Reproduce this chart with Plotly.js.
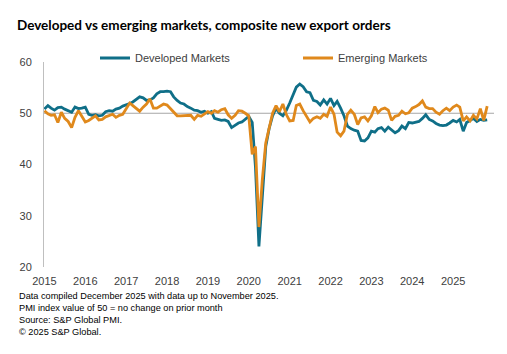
<!DOCTYPE html>
<html>
<head>
<meta charset="utf-8">
<script src="https://cdn.plot.ly/plotly-3.0.1.min.js"></script>
<style>html,body{margin:0;padding:0;background:#fff;}#chart{width:507px;height:354px;}</style>
</head>
<body>
<div id="chart"></div>
<script>
// Monthly values, Jan 2015 - Nov 2025
const years = ['2015','2016','2017','2018','2019','2020','2021','2022','2023','2024','2025'];

const developed2015 = [50.8, 51.5, 51.0, 50.6, 51.1, 51.2, 50.8, 50.5, 50.2, 51.2, 50.9, 51.0];
const developed2016 = [51.2, 49.8, 49.6, 49.7, 49.5, 49.6, 50.3, 50.5, 50.4, 50.8, 51.0, 51.4];
const developed2017 = [51.6, 51.9, 52.2, 52.8, 53.2, 53.0, 52.5, 52.6, 53.0, 53.8, 54.2, 54.2];
const developed2018 = [54.3, 54.2, 53.2, 52.5, 52.0, 51.8, 51.3, 51.0, 50.6, 50.5, 50.2, 50.4];
const developed2019 = [50.0, 50.3, 49.0, 48.8, 48.6, 48.7, 48.4, 47.2, 47.6, 48.1, 48.3, 48.9];
const developed2020 = [49.4, 48.2, 39.5, 24.0, 33.0, 43.5, 47.0, 49.5, 51.0, 50.0, 49.5, 50.5];
const developed2021 = [52.0, 53.5, 55.1, 55.7, 55.2, 54.2, 54.0, 52.5, 52.3, 51.6, 52.6, 51.8];
const developed2022 = [52.9, 51.5, 52.3, 51.0, 49.5, 47.5, 47.0, 46.7, 46.5, 44.7, 44.6, 45.2];
const developed2023 = [46.5, 46.3, 47.0, 47.2, 46.5, 47.3, 46.7, 46.2, 46.6, 47.5, 47.0, 48.2];
const developed2024 = [48.1, 48.3, 48.4, 49.0, 49.7, 48.8, 48.5, 48.0, 47.7, 47.6, 47.7, 48.1];
const developed2025 = [48.6, 48.3, 48.8, 46.5, 48.2, 48.6, 49.0, 48.4, 48.8, 48.6, 48.7];

const emerging2015 = [50.5, 49.9, 49.6, 49.7, 48.2, 50.2, 49.0, 48.4, 47.2, 49.2, 50.5, 49.3];
const emerging2016 = [48.3, 48.6, 49.0, 49.5, 48.7, 48.8, 49.3, 49.6, 49.8, 49.2, 49.6, 49.8];
const emerging2017 = [51.0, 52.0, 51.5, 51.0, 50.4, 51.2, 51.8, 52.8, 51.0, 51.0, 51.4, 51.8];
const emerging2018 = [51.6, 50.8, 50.3, 49.5, 49.5, 49.5, 49.6, 49.6, 48.8, 49.6, 49.4, 49.8];
const emerging2019 = [50.3, 50.0, 50.5, 50.2, 50.7, 50.9, 49.7, 49.0, 49.6, 50.5, 50.4, 50.0];
const emerging2020 = [49.5, 42.0, 43.5, 27.8, 37.0, 44.2, 47.0, 50.0, 51.5, 50.3, 51.8, 49.8];
const emerging2021 = [48.5, 48.6, 51.5, 51.8, 50.5, 49.4, 48.3, 49.0, 49.3, 49.0, 49.8, 49.4];
const emerging2022 = [51.2, 49.8, 46.3, 45.6, 46.5, 49.8, 50.6, 49.8, 47.8, 49.1, 49.3, 48.5];
const emerging2023 = [49.5, 51.3, 50.1, 50.8, 51.0, 50.6, 48.6, 49.4, 49.6, 50.4, 49.9, 50.1];
const emerging2024 = [51.0, 51.3, 51.7, 52.4, 51.2, 50.9, 50.9, 50.2, 49.8, 50.5, 51.0, 50.5];
const emerging2025 = [51.2, 51.6, 51.2, 48.5, 49.3, 48.5, 49.6, 48.9, 50.9, 48.6, 51.4];

const yTicks = [20, 30, 40, 50, 60];
const footnotes = [
  'Data compiled December 2025 with data up to November 2025.',
  'PMI index value of 50 = no change on prior month',
  'Source: S&P Global PMI.',
  '\u00a9 2025 S&P Global.'
];

const developed = [].concat(developed2015, developed2016, developed2017, developed2018, developed2019,
  developed2020, developed2021, developed2022, developed2023, developed2024, developed2025);
const emerging = [].concat(emerging2015, emerging2016, emerging2017, emerging2018, emerging2019,
  emerging2020, emerging2021, emerging2022, emerging2023, emerging2024, emerging2025);

const dates = [];
for (let i = 0; i < developed.length; i++) {
  const y = 2015 + Math.floor(i / 12);
  const m = (i % 12) + 1;
  dates.push(y + '-' + (m < 10 ? '0' + m : m) + '-01');
}

const W = 507, H = 354;
const L = 44, R = 13, T = 62, B = 87;
const pw = W - L - R, ph = H - T - B;
const px = v => (v - L) / pw;
const py = v => 1 - (v - T) / ph;

const font = 'Liberation Sans, Arial, sans-serif';

const traces = [
  {x: dates, y: developed, type: 'scatter', mode: 'lines', name: 'Developed Markets',
   line: {color: '#0f6f88', width: 2.8}, legend: 'legend'},
  {x: dates, y: emerging, type: 'scatter', mode: 'lines', name: 'Emerging Markets',
   line: {color: '#e0891c', width: 2.8}, legend: 'legend2'}
];

const legendBase = {orientation: 'h', xanchor: 'left', y: py(58), yanchor: 'middle',
  font: {family: font, size: 11, color: '#404040'}, bgcolor: 'rgba(0,0,0,0)',
  itemwidth: 30, tracegroupgap: 0};

const layout = {
  width: W, height: H,
  margin: {l: L, r: R, t: T, b: B, pad: 0},
  paper_bgcolor: '#ffffff', plot_bgcolor: '#ffffff',
  font: {family: font, size: 11, color: '#404040'},
  title: {text: '<b>Developed vs emerging markets, composite new export orders</b>',
    x: 17 / W, xanchor: 'left', xref: 'container',
    y: 1 - 25 / H, yanchor: 'middle', yref: 'container',
    font: {family: 'Lato, Liberation Sans, sans-serif', size: 13.5, color: '#000000'}},
  showlegend: true,
  legend: Object.assign({}, legendBase, {x: px(95)}),
  legend2: Object.assign({}, legendBase, {x: px(298)}),
  xaxis: {type: 'date', range: ['2014-12-28', '2026-01-01'],
    tickvals: years.map(y => y + '-01-01'), ticktext: years,
    showgrid: false, zeroline: false, showline: false, ticks: '',
    ticklabelstandoff: 6, tickfont: {family: font, size: 11, color: '#404040'}},
  yaxis: {range: [20, 60], tickvals: yTicks, ticktext: yTicks.map(String),
    showgrid: false, zeroline: false, showline: true, linecolor: '#bfbfbf', linewidth: 1,
    ticks: '', ticklabelstandoff: 9, tickfont: {family: font, size: 11, color: '#404040'}},
  shapes: [{type: 'line', xref: 'paper', x0: 0, x1: 1, yref: 'y', y0: 50, y1: 50,
    line: {color: '#a6a6a6', width: 1}, layer: 'below'}],
  annotations: [{xref: 'paper', yref: 'paper', x: px(17), y: py(289), xanchor: 'left', yanchor: 'top',
    align: 'left', showarrow: false, text: footnotes.join('<br>'),
    font: {family: font, size: 9.2, color: '#000000'}}]
};

Plotly.newPlot('chart', traces, layout, {displayModeBar: false, staticPlot: true});
</script>
</body>
</html>
